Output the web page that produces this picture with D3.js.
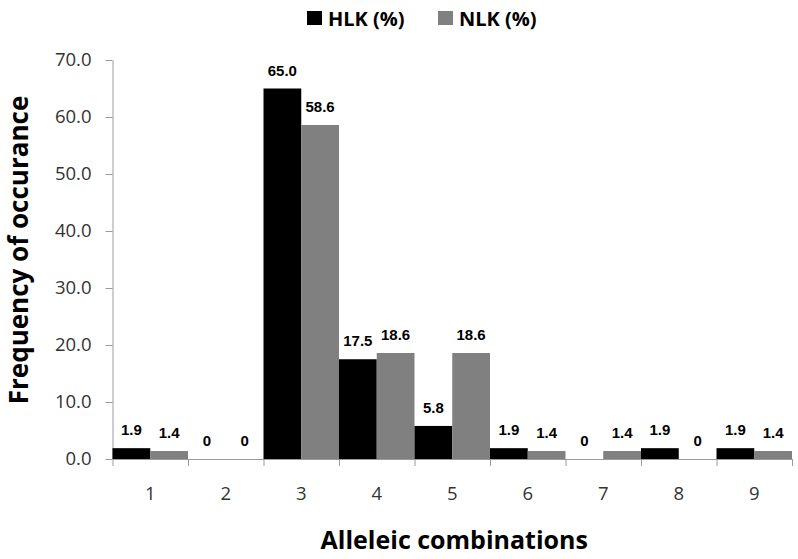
<!DOCTYPE html>
<html>
<head>
<meta charset="utf-8">
<script src="https://cdn.jsdelivr.net/npm/d3@7"></script>
<style>
  body { margin: 0; background: #fff; }
  .axis path, .axis line { stroke: #9a9a9a; }
  .axis text { font-family: 'Open Sans', sans-serif; font-size: 18.5px; fill: #333; }
  .val { font-family: 'Liberation Sans', Arial, sans-serif; font-weight: bold; font-size: 15px; fill: #000; }
</style>
</head>
<body>
<div class="chart"></div>
<script>
const categories = ['1', '2', '3', '4', '5', '6', '7', '8', '9'];
const seriesNames = ['HLK (%)', 'NLK (%)'];
const hlk = [1.9, 0, 65.0, 17.5, 5.8, 1.9, 0, 1.9, 1.9];
const nlk = [1.4, 0, 58.6, 18.6, 18.6, 1.4, 1.4, 0, 1.4];
const hlkLabels = ['1.9', '0', '65.0', '17.5', '5.8', '1.9', '0', '1.9', '1.9'];
const nlkLabels = ['1.4', '0', '58.6', '18.6', '18.6', '1.4', '1.4', '0', '1.4'];
const yTicks = [0, 10, 20, 30, 40, 50, 60, 70];
const colors = ['#000000', '#808080'];

const w = 798;
const h = 559;
const padding = { top: 60, right: 6, bottom: 100, left: 112.5 };

const rows = categories.map((c, i) => ({
  cat: c,
  values: [
    { key: seriesNames[0], value: hlk[i], label: hlkLabels[i] },
    { key: seriesNames[1], value: nlk[i], label: nlkLabels[i] }
  ]
}));

const x0 = d3.scaleBand()
  .domain(categories)
  .range([padding.left, w - padding.right])
  .padding(0);
const x1 = d3.scaleBand()
  .domain(seriesNames)
  .range([0, x0.bandwidth()])
  .padding(0);
const yScale = d3.scaleLinear()
  .domain([0, 70])
  .range([h - padding.bottom, padding.top]);
const color = d3.scaleOrdinal().domain(seriesNames).range(colors);

const svg = d3.select('.chart')
  .append('svg')
  .attr('width', w)
  .attr('height', h);

// y axis
svg.append('g')
  .attr('class', 'axis')
  .attr('transform', `translate(${padding.left}, 0)`)
  .call(d3.axisLeft(yScale).tickValues(yTicks).tickFormat(d3.format('.1f')).tickSize(7).tickSizeOuter(0).tickPadding(14));

// x axis: tick marks at band edges
const edges = d3.scaleLinear().domain([0, categories.length]).range(x0.range());
svg.append('g')
  .attr('class', 'axis')
  .attr('transform', `translate(0, ${h - padding.bottom})`)
  .call(d3.axisBottom(edges).tickValues(d3.range(0, categories.length + 1)).tickFormat('').tickSize(7).tickSizeOuter(0));

// x axis: labels at band centres
svg.append('g')
  .attr('class', 'axis')
  .attr('transform', `translate(0, ${h - padding.bottom})`)
  .call(d3.axisBottom(x0).tickSize(0).tickPadding(28))
  .call((g) => g.select('.domain').remove());

const groups = svg.selectAll('.grp')
  .data(rows)
  .enter()
  .append('g')
  .attr('class', 'grp')
  .attr('transform', (d) => `translate(${x0(d.cat)}, 0)`);

groups.selectAll('rect')
  .data((d) => d.values)
  .enter()
  .append('rect')
  .attr('x', (d) => x1(d.key))
  .attr('y', (d) => yScale(d.value))
  .attr('width', x1.bandwidth())
  .attr('height', (d) => yScale(0) - yScale(d.value))
  .attr('fill', (d) => color(d.key));

groups.selectAll('.val')
  .data((d) => d.values)
  .enter()
  .append('text')
  .attr('class', 'val')
  .attr('x', (d) => x1(d.key) + x1.bandwidth() / 2)
  .attr('y', (d) => yScale(d.value) - 13)
  .attr('text-anchor', 'middle')
  .text((d) => d.label);

// axis titles
svg.append('text')
  .attr('x', (padding.left + w - padding.right) / 2 + 2)
  .attr('y', 549)
  .attr('text-anchor', 'middle')
  .style('font-family', "'Open Sans', sans-serif")
  .style('font-weight', 'bold')
  .style('font-size', '25px')
  .text('Alleleic combinations');

svg.append('text')
  .attr('transform', 'rotate(-90)')
  .attr('x', -250)
  .attr('y', 28)
  .attr('text-anchor', 'middle')
  .style('font-family', "'Open Sans', sans-serif")
  .style('font-weight', 'bold')
  .style('font-size', '26px')
  .text('Frequency of occurance');

// legend
const legendX = [307, 438];
const legend = svg.selectAll('.legend')
  .data(seriesNames)
  .enter()
  .append('g')
  .attr('class', 'legend')
  .attr('transform', (d, i) => `translate(${legendX[i]}, 11)`);
legend.append('rect')
  .attr('width', 15)
  .attr('height', 14)
  .attr('fill', (d) => color(d));
legend.append('text')
  .attr('x', 21)
  .attr('y', 15)
  .style('font-family', "'Open Sans', sans-serif")
  .style('font-weight', 'bold')
  .style('font-size', '20px')
  .text((d) => d);
</script>
</body>
</html>
